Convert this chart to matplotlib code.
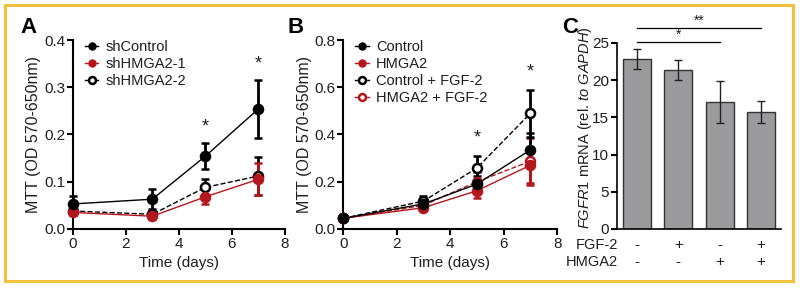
import matplotlib
matplotlib.use("Agg")
import matplotlib.pyplot as plt
import matplotlib.transforms as mtransforms
from matplotlib.patches import Rectangle
import numpy as np

plt.rcParams['font.family'] = ['Liberation Sans', 'DejaVu Sans']
plt.rcParams['mathtext.fontset'] = 'custom'
plt.rcParams['mathtext.rm'] = 'Liberation Sans'
plt.rcParams['mathtext.it'] = 'Liberation Sans:italic'

RED = "#b3161d"
TXT = "#1e1e1e"

# -------------------------
# Datos panel A
# -------------------------
dias = [0, 3, 5, 7]
shcontrol = [0.053, 0.063, 0.154, 0.254]
shcontrol_err = [0.017, 0.021, 0.027, 0.061]
shhmga2_1 = [0.035, 0.027, 0.068, 0.105]
shhmga2_1_err = [0.006, 0.005, 0.016, 0.034]
shhmga2_2 = [0.038, 0.031, 0.088, 0.112]
shhmga2_2_err = [0.008, 0.008, 0.018, 0.040]
estrellas_a = [5, 7]
estrellas_a_y = [0.215, 0.35]

# -------------------------
# Datos panel B
# -------------------------
control = [0.045, 0.106, 0.19, 0.335]
control_err = [0.005, 0.015, 0.035, 0.07]
hmga2 = [0.045, 0.09, 0.162, 0.27]
hmga2_err = [0.004, 0.01, 0.03, 0.075]
control_fgf = [0.045, 0.118, 0.258, 0.49]
control_fgf_err = [0.004, 0.02, 0.052, 0.1]
hmga2_fgf = [0.045, 0.10, 0.2, 0.287]
hmga2_fgf_err = [0.004, 0.012, 0.04, 0.1]
estrellas_b = [5, 7]
estrellas_b_y = [0.385, 0.665]

# -------------------------
# Datos panel C
# -------------------------
barras = [22.85, 21.4, 17.05, 15.75]
barras_err = [1.35, 1.35, 2.85, 1.5]
fgf2_signos = ["-", "+", "-", "+"]
hmga2_signos = ["-", "-", "+", "+"]

fig = plt.figure(figsize=(8, 2.88), dpi=100)

# borde dorado
fig.patches.append(Rectangle((0.006, 0.024), 0.985, 0.958, transform=fig.transFigure,
                             fill=False, edgecolor="#f2c23e", linewidth=2.2))

def estilo(ax):
    for s in ["top", "right"]:
        ax.spines[s].set_visible(False)
    for s in ["left", "bottom"]:
        ax.spines[s].set_linewidth(1.5)
    ax.tick_params(width=1.5, length=4, labelsize=11, color="black", labelcolor=TXT, pad=1.5)

def serie(ax, y, err, color, abierto, estilo_linea):
    cara = "white" if abierto else color
    ax.errorbar(dias, y, yerr=err, color=color, ecolor=color, linestyle=estilo_linea,
                linewidth=1.0, elinewidth=2.0, capsize=3, capthick=2.0,
                marker="o", markersize=6.5, markerfacecolor=cara,
                markeredgecolor=color, markeredgewidth=1.8, clip_on=False, zorder=3)

# -------------------------
# Panel A
# -------------------------
axA = fig.add_axes([0.091, 0.205, 0.265, 0.656])
serie(axA, shhmga2_2, shhmga2_2_err, "black", True, "--")
serie(axA, shhmga2_1, shhmga2_1_err, RED, False, "-")
serie(axA, shcontrol, shcontrol_err, "black", False, "-")
axA.set_xlim(0, 8)
axA.set_ylim(0, 0.4)
axA.set_xticks([0, 2, 4, 6, 8])
axA.set_yticks([0.0, 0.1, 0.2, 0.3, 0.4])
axA.set_yticklabels(["0.0", "0.1", "0.2", "0.3", "0.4"])
estilo(axA)
axA.set_xlabel("Time (days)", fontsize=11, labelpad=4, color=TXT)
axA.set_ylabel("MTT (OD 570-650nm)", fontsize=11.5, labelpad=2, color=TXT)
for x, y in zip(estrellas_a, estrellas_a_y):
    axA.text(x, y, "*", ha="center", va="center", fontsize=13, color=TXT)
hA = [
    plt.Line2D([], [], color="black", marker="o", markersize=5, lw=1),
    plt.Line2D([], [], color=RED, marker="o", markersize=5, lw=1),
    plt.Line2D([], [], color="black", marker="o", markersize=5, lw=1, mfc="white", mew=1.8),
]
legA = axA.legend(hA, ["shControl", "shHMGA2-1", "shHMGA2-2"], loc="upper left",
                  bbox_to_anchor=(0.03, 1.03), frameon=False, fontsize=10.5,
                  handlelength=0.9, handletextpad=0.5, labelspacing=0.2, borderaxespad=0)
for t in legA.get_texts():
    t.set_color(TXT)

# -------------------------
# Panel B
# -------------------------
axB = fig.add_axes([0.429, 0.205, 0.2675, 0.656])
serie(axB, hmga2_fgf, hmga2_fgf_err, RED, True, "--")
serie(axB, control_fgf, control_fgf_err, "black", True, "--")
serie(axB, hmga2, hmga2_err, RED, False, "-")
serie(axB, control, control_err, "black", False, "-")
axB.set_xlim(0, 8)
axB.set_ylim(0, 0.8)
axB.set_xticks([0, 2, 4, 6, 8])
axB.set_yticks([0.0, 0.2, 0.4, 0.6, 0.8])
axB.set_yticklabels(["0.0", "0.2", "0.4", "0.6", "0.8"])
estilo(axB)
axB.set_xlabel("Time (days)", fontsize=11, labelpad=4, color=TXT)
axB.set_ylabel("MTT (OD 570-650nm)", fontsize=11.5, labelpad=2, color=TXT)
for x, y in zip(estrellas_b, estrellas_b_y):
    axB.text(x, y, "*", ha="center", va="center", fontsize=13, color=TXT)
hB = [
    plt.Line2D([], [], color="black", marker="o", markersize=5, lw=1),
    plt.Line2D([], [], color=RED, marker="o", markersize=5, lw=1),
    plt.Line2D([], [], color="black", marker="o", markersize=5, lw=1, mfc="white", mew=1.8),
    plt.Line2D([], [], color=RED, marker="o", markersize=5, lw=1, mfc="white", mew=1.8),
]
legB = axB.legend(hB, ["Control", "HMGA2", "Control + FGF-2", "HMGA2 + FGF-2"], loc="upper left",
                  bbox_to_anchor=(0.03, 1.03), frameon=False, fontsize=10.5,
                  handlelength=0.9, handletextpad=0.5, labelspacing=0.2, borderaxespad=0)
for t in legB.get_texts():
    t.set_color(TXT)

# -------------------------
# Panel C
# -------------------------
axC = fig.add_axes([0.771, 0.205, 0.205, 0.646])
pos = np.arange(len(barras))
axC.bar(pos, barras, width=0.68, color="#9b9b9d", edgecolor="#333333", linewidth=1.0,
        yerr=barras_err, capsize=3, error_kw=dict(elinewidth=1.0, capthick=1.0, ecolor="#222222"))
axC.set_xlim(-0.49, 3.48)
axC.set_ylim(0, 25)
axC.set_yticks([0, 5, 10, 15, 20, 25])
axC.set_xticks([])
estilo(axC)
axC.spines["bottom"].set_linewidth(1.2)
axC.spines["left"].set_linewidth(1.2)
axC.set_ylabel(r"$\it{FGFR1}$ mRNA (rel. $\it{to\ GAPDH}$)", fontsize=10.5, color=TXT)
axC.yaxis.set_label_coords(-0.14, 0.545)

tr = mtransforms.blended_transform_factory(axC.transData, axC.transAxes)
fila1, fila2 = -0.088, -0.178
axC.text(-0.47, fila1, "FGF-2", transform=tr, ha="right", va="center", fontsize=10.5, color=TXT)
axC.text(-0.47, fila2, "HMGA2", transform=tr, ha="right", va="center", fontsize=10.5, color=TXT)
for i in pos:
    axC.text(i, fila1, fgf2_signos[i], transform=tr, ha="center", va="center", fontsize=11, color=TXT)
    axC.text(i, fila2, hmga2_signos[i], transform=tr, ha="center", va="center", fontsize=11, color=TXT)

# barras de significancia
axC.plot([0, 2], [25.1, 25.1], color="black", lw=0.9, clip_on=False)
axC.text(1.0, 25.2, "*", ha="center", va="bottom", fontsize=10, color=TXT)
axC.plot([0, 3], [27.0, 27.0], color="black", lw=0.9, clip_on=False)
axC.text(1.5, 27.1, "**", ha="center", va="bottom", fontsize=10, color=TXT)

# letras de panel
fig.text(0.035, 0.905, "A", fontsize=16, fontweight="bold", ha="center", va="center")
fig.text(0.369, 0.905, "B", fontsize=16, fontweight="bold", ha="center", va="center")
fig.text(0.713, 0.905, "C", fontsize=16, fontweight="bold", ha="center", va="center")

fig.savefig("out.png", dpi=100)
